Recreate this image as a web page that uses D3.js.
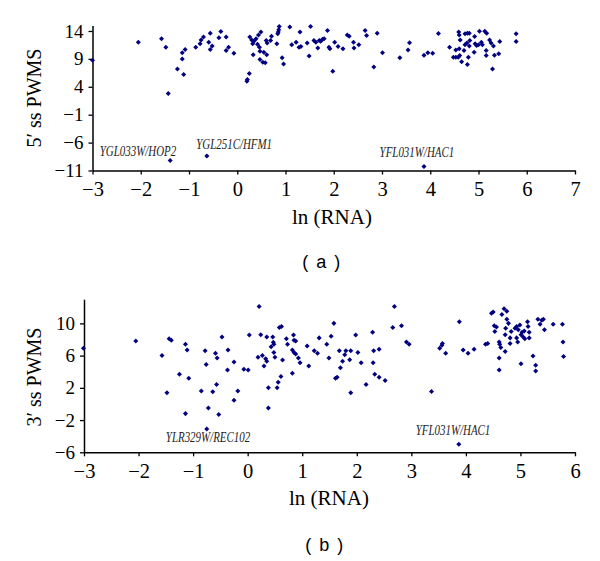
<!DOCTYPE html>
<html>
<head>
<meta charset="utf-8">
<script src="https://cdn.jsdelivr.net/npm/d3@7"></script>
<style>
  html, body { margin: 0; padding: 0; background: #fff; }
  svg { display: block; }
</style>
</head>
<body>
<svg id="chart" width="600" height="561"></svg>
<script>
// ---- Data: panel (a) 5' splice site PWMS vs ln(RNA) ----
const panelA_points = [
  [-3.0,8.75],[-2.05,12.0],[-1.57,12.6],[-1.48,11.1],[-1.43,2.8],[-1.24,7.2],[-1.11,6.2],[-1.14,9.0],[-1.14,10.1],[-1.08,10.7],
  [-0.86,11.1],[-0.77,11.7],[-0.75,12.4],[-0.70,12.9],[-0.56,13.6],[-0.59,12.0],[-0.52,11.3],[-0.56,10.7],[-0.34,13.9],[-0.38,12.8],
  [-0.23,12.9],[-0.18,11.1],[-0.23,10.5],[-0.07,10.0],[0.20,5.0],[0.21,5.3],[0.25,6.4],
  [0.26,12.9],[0.30,12.4],[0.35,12.2],[0.39,12.6],[0.32,11.7],[0.44,13.3],[0.49,13.8],[0.42,11.6],[0.46,11.1],[0.33,9.75],
  [0.47,10.35],[0.55,10.2],[0.61,9.75],[0.47,8.9],[0.53,8.4],[0.58,8.3],[0.60,12.3],[0.62,11.85],[0.69,12.3],[0.71,13.05],
  [0.82,11.7],[0.84,13.5],[0.86,14.2],[0.87,14.8],[0.85,13.8],[0.93,9.2],[0.96,8.1],[1.09,14.7],[1.13,11.55],[1.22,12.0],
  [1.28,11.1],[1.30,13.8],[1.32,11.2],[1.45,11.85],[1.49,9.5],[1.52,14.8],[1.59,12.3],[1.63,12.0],[1.67,10.95],[1.70,12.3],
  [1.73,12.15],[1.77,12.5],[1.80,12.6],[1.87,14.1],[1.90,11.1],[1.92,10.8],[1.98,6.8],[2.02,12.0],[2.09,11.2],[2.19,10.8],
  [2.28,13.3],[2.32,13.05],[2.41,12.0],[2.42,10.95],[2.52,11.55],[2.65,14.1],[2.68,13.2],[2.83,7.55],[2.90,13.6],[3.01,10.1],
  [3.37,9.2],[3.54,10.6],[3.57,11.9],
  [3.87,9.65],[3.95,10.1],[4.05,10.0],[4.17,13.55],[4.40,11.1],[4.48,9.3],[4.53,9.3],[4.58,9.3],[4.61,9.6],[4.53,10.6],
  [4.60,10.8],[4.59,13.8],[4.60,13.3],[4.62,12.4],[4.65,8.5],[4.72,13.5],[4.77,13.6],[4.81,13.6],[4.77,8.0],[4.82,12.3],
  [4.79,9.3],[4.91,10.2],[4.92,13.0],[4.93,11.7],[4.96,11.4],[5.0,11.55],[5.02,13.95],[5.06,12.0],[5.08,11.55],[5.13,13.95],
  [5.17,13.6],[5.16,10.5],[5.16,9.6],[5.23,12.4],[5.26,11.85],[5.29,7.2],[5.31,11.3],[5.33,9.65],[5.42,9.9],[5.44,12.1],
  [5.78,13.5],[5.78,12.1],[4.70,10.5],[4.72,11.55],[4.76,11.85],[4.81,11.3],
  [-1.39,-9.2],[-0.63,-8.4],[3.87,-10.3]
];
const panelA_labels = [
  {text: "YGL033W/HOP2", x: -2.85, y: -8.4},
  {text: "YGL251C/HFM1", x: -0.85, y: -7.2},
  {text: "YFL031W/HAC1", x: 2.95, y: -8.5}
];
const panelA_xTicks = [-3,-2,-1,0,1,2,3,4,5,6,7];
const panelA_yTicks = [-11,-6,-1,4,9,14];

// ---- Data: panel (b) 3' splice site PWMS vs ln(RNA) ----
const panelB_points = [
  [-3.01,6.9],[-2.05,7.8],[-1.44,8.1],[-1.40,7.9],[-1.14,7.4],[-1.11,6.7],[-1.57,6.0],[-1.48,1.4],[-1.25,3.7],[-1.08,3.2],
  [-1.14,-1.2],[-0.78,6.6],[-0.76,4.9],[-0.85,1.6],[-0.72,-0.5],[-0.59,6.3],[-0.56,5.7],[-0.64,1.5],[-0.57,2.4],[-0.53,-1.3],
  [-0.47,8.3],[-0.36,6.7],[-0.37,4.2],[-0.25,5.2],[-0.18,1.6],[-0.25,0.45],[-0.07,4.3],[0.01,4.2],[0.03,8.55],
  [0.21,12.1],[0.24,8.6],[0.35,8.3],[0.46,8.3],[0.47,7.65],[0.48,7.4],[0.43,7.1],[0.58,9.5],[0.62,9.6],[0.19,5.8],
  [0.27,6.0],[0.33,5.6],[0.35,5.3],[0.30,4.7],[0.48,6.4],[0.50,5.8],[0.64,5.45],[0.61,3.4],[0.56,2.7],[0.54,2.0],
  [0.38,2.0],[0.38,-0.5],[0.71,8.1],[0.73,7.4],[0.84,8.55],[0.85,7.9],[0.88,7.8],[0.82,6.7],[0.85,6.4],[0.88,6.2],
  [0.93,5.7],[0.96,5.1],[0.82,3.8],[1.09,7.2],[1.12,4.7],[1.22,6.6],[1.28,6.3],[1.31,8.2],[1.45,7.4],[1.53,8.4],
  [1.58,10.0],[1.49,5.7],[1.61,3.2],[1.64,3.3],[1.68,6.6],[1.70,4.5],[1.74,5.3],[1.78,6.1],[1.80,6.6],[1.89,6.6],
  [1.87,5.5],[1.89,1.4],[1.98,8.55],[2.02,6.4],[2.08,5.1],[2.17,2.4],[2.29,8.9],[2.30,5.1],[2.31,6.6],[2.41,6.8],
  [2.33,3.7],[2.41,3.3],[2.52,2.9],[2.66,9.5],[2.69,12.1],[2.82,9.7],[2.91,7.7],[2.96,7.4],
  [3.37,1.55],[3.52,6.9],[3.56,7.3],[3.57,7.5],[3.63,6.3],[3.88,10.2],[3.95,6.7],[4.04,6.3],[4.15,6.8],[4.36,7.4],[4.40,7.5],
  [4.47,11.25],[4.50,11.4],[4.70,11.8],[4.75,11.5],[4.66,11.1],[4.52,9.7],[4.56,9.55],[4.53,9.0],[4.75,10.5],[4.78,10.0],
  [4.73,9.4],[4.72,8.6],[4.61,7.7],[4.62,7.4],[4.64,7.0],[4.72,6.5],[4.61,5.7],[4.61,4.2],[4.83,9.0],[4.90,9.4],
  [4.93,9.6],[4.96,9.2],[4.99,9.8],[5.01,8.6],[4.81,8.2],[4.81,7.5],[4.93,8.2],[4.95,7.7],[5.03,8.9],[5.07,9.05],
  [5.05,8.3],[5.08,8.1],[5.13,10.2],[5.14,9.6],[5.16,8.9],[5.16,8.2],[5.01,5.0],[5.23,5.95],[5.28,4.8],[5.28,4.1],
  [5.32,10.5],[5.36,9.9],[5.39,10.4],[5.42,10.5],[5.44,9.2],[5.60,9.9],[5.77,9.9],[5.78,7.7],[5.79,5.9],
  [-0.75,-3.1],[3.87,-5.0]
];
const panelB_labels = [
  {text: "YLR329W/REC102", x: -1.5, y: -4.75},
  {text: "YFL031W/HAC1", x: 3.08, y: -3.9}
];
const panelB_xTicks = [-3,-2,-1,0,1,2,3,4,5,6];
const panelB_yTicks = [-6,-2,2,6,10];

// ---- Drawing ----
const svg = d3.select("#chart");
svg.append("rect").attr("width", 600).attr("height", 561).attr("fill", "#fff");

const serif = "'Liberation Serif', 'DejaVu Serif', serif";
const sans = "'Liberation Sans', Arial, sans-serif";
const dotColor = "#000080";
const symbol = d3.symbol().type(d3.symbolDiamond2).size(16);

function panel(cfg) {
  const x = d3.scaleLinear().domain(cfg.xDomain).range(cfg.xRange);
  const y = d3.scaleLinear().domain(cfg.yDomain).range(cfg.yRange);
  const g = svg.append("g");

  const xAxis = g.append("g")
    .attr("transform", `translate(0,${cfg.yRange[0]})`)
    .call(d3.axisBottom(x).tickValues(cfg.xTicks).tickSize(4).tickSizeOuter(0).tickPadding(7));
  const yAxis = g.append("g")
    .attr("transform", `translate(${cfg.xRange[0]},0)`)
    .call(d3.axisLeft(y).tickValues(cfg.yTicks).tickSize(4).tickSizeOuter(0).tickPadding(5));

  [xAxis, yAxis].forEach(a => {
    a.select(".domain").attr("stroke", "#000").attr("stroke-width", 1.5);
    a.selectAll(".tick line").attr("stroke", "#000").attr("stroke-width", 1.3);
    a.selectAll(".tick text").attr("fill", "#000").attr("font-family", serif);
  });
  xAxis.selectAll(".tick text").attr("font-size", 20.5);
  yAxis.selectAll(".tick text").attr("font-size", 19);

  g.append("g").selectAll("path").data(cfg.points).join("path")
    .attr("d", symbol)
    .attr("transform", d => `translate(${x(d[0])},${y(d[1])})`)
    .attr("fill", dotColor);

  g.append("g").selectAll("text").data(cfg.labels).join("text")
    .attr("transform", d => `translate(${x(d.x)},${y(d.y)}) scale(0.95,1.2)`)
    .attr("font-family", serif).attr("font-style", "italic")
    .attr("font-size", 11.5).attr("fill", "#222")
    .text(d => d.text);

  // y-axis title
  g.append("text")
    .attr("transform", `translate(${cfg.yTitlePos[0]},${cfg.yTitlePos[1]}) rotate(-90)`)
    .attr("text-anchor", "middle")
    .attr("font-family", serif).attr("font-size", 20).attr("fill", "#000")
    .text(cfg.yTitle);
  // x-axis title
  g.append("text")
    .attr("x", cfg.xTitlePos[0]).attr("y", cfg.xTitlePos[1])
    .attr("text-anchor", "middle")
    .attr("font-family", serif).attr("font-size", 21).attr("fill", "#000")
    .text("ln (RNA)");
  // panel letter
  g.append("text")
    .attr("x", cfg.letterPos[0]).attr("y", cfg.letterPos[1])
    .attr("text-anchor", "middle")
    .attr("font-family", sans).attr("font-size", 18).attr("fill", "#000")
    .attr("letter-spacing", 1.5)
    .attr("xml:space", "preserve")
    .text(cfg.letter);
}

panel({
  points: panelA_points, labels: panelA_labels,
  xDomain: [-3, 7], xRange: [92.5, 575],
  yDomain: [-11, 15], yRange: [170.5, 25.4],
  xTicks: panelA_xTicks, yTicks: panelA_yTicks,
  yTitle: "5\u2032 ss PWMS", yTitlePos: [41, 98],
  xTitlePos: [332, 224], letter: "( a )", letterPos: [322, 268]
});

panel({
  points: panelB_points, labels: panelB_labels,
  xDomain: [-3, 6], xRange: [84, 575],
  yDomain: [-6, 13], yRange: [452.3, 299.2],
  xTicks: panelB_xTicks, yTicks: panelB_yTicks,
  yTitle: "3\u2032 ss PWMS", yTitlePos: [41, 377],
  xTitlePos: [329, 505], letter: "( b )", letterPos: [325, 551]
});
</script>
</body>
</html>
